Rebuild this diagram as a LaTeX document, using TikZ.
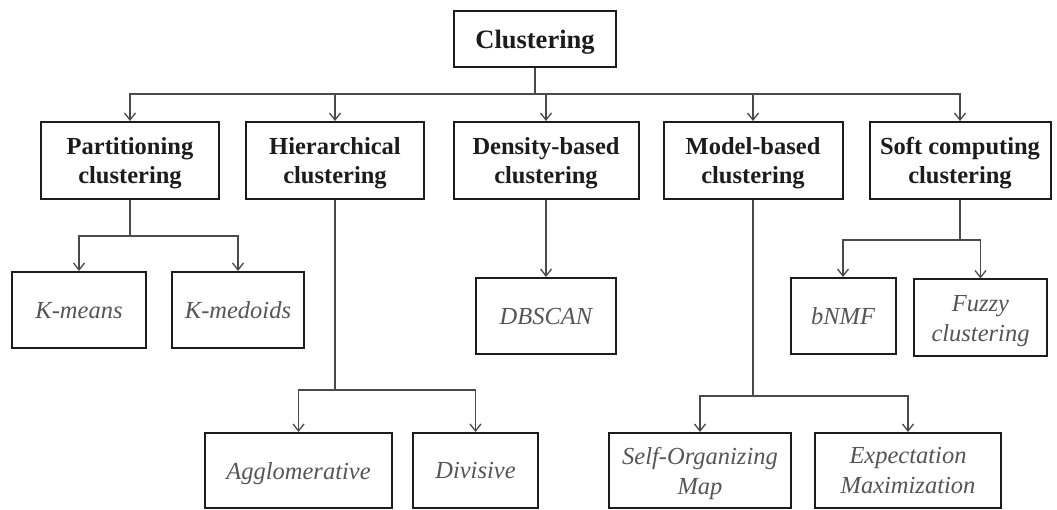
\documentclass[tikz,border=0pt]{standalone}
\usepackage{fontspec}
\setmainfont{Liberation Serif}
\usetikzlibrary{arrows.meta}
\definecolor{inkdark}{HTML}{1C1C1C}
\definecolor{inkgray}{HTML}{555555}
\definecolor{wiregray}{HTML}{4A4A4A}
\begin{document}
\begin{tikzpicture}[x=1pt,y=-1pt,
  catbox/.style={draw=inkdark, line width=2pt, align=center, inner sep=0pt, text depth=0pt,
    text=inkdark, font=\fontsize{24.5}{29.5}\selectfont\bfseries, minimum height=77pt},
  leafbox/.style={draw=inkdark, line width=2pt, align=center, inner sep=0pt, text depth=0pt,
    text=inkgray, font=\fontsize{24.5}{30}\selectfont\itshape, minimum height=76pt},
  wire/.style={draw=wiregray, line width=1.3pt},
  arr/.style={wire, -{Straight Barb[length=7pt,width=11pt,line width=1.3pt]}}
]
\useasboundingbox (0,0) rectangle (1057,510);

% root
\node[catbox, minimum width=162pt, minimum height=56pt,
  font=\fontsize{26.5}{30}\selectfont\bfseries] (root) at (535,39) {Clustering};

% first level
\node[catbox, minimum width=178pt] (part) at (130,160.5) {Partitioning\\clustering};
\node[catbox, minimum width=178pt] (hier) at (335,160.5) {Hierarchical\\clustering};
\node[catbox, minimum width=185pt] (dens) at (546,160.5) {Density-based\\clustering};
\node[catbox, minimum width=179pt] (model) at (753,160.5) {Model-based\\clustering};
\node[catbox, minimum width=181pt] (soft) at (960,160.5) {Soft computing\\clustering};

% leaves
\node[leafbox, minimum width=134pt] (kmeans) at (79,310) {K-means};
\node[leafbox, minimum width=132pt] (kmedoids) at (238,310) {K-medoids};
\node[leafbox, minimum width=140pt] (dbscan) at (546,316) {DBSCAN};
\node[leafbox, minimum width=105pt] (bnmf) at (843,316) {bNMF};
\node[leafbox, minimum width=133pt, minimum height=77pt] (fuzzy) at (980.5,318) {Fuzzy\\clustering};
\node[leafbox, minimum width=187pt, minimum height=75pt] (agglo) at (298.5,470.5) {Agglomerative};
\node[leafbox, minimum width=125pt, minimum height=75pt] (divis) at (475.5,470.5) {Divisive};
\node[leafbox, minimum width=182pt, minimum height=75pt] (som) at (700,470.5) {Self-Organizing\\Map};
\node[leafbox, minimum width=186pt, minimum height=75pt] (em) at (908,470.5) {Expectation\\Maximization};

% junction heights of the buses
\coordinate (busTop) at (0,94);
\coordinate (busPart) at (0,236);
\coordinate (busHier) at (0,390);
\coordinate (busModel) at (0,396);
\coordinate (busSoft) at (0,240);

% root to categories
\foreach \c in {part,hier,dens,model,soft}
  \draw[arr] (root.south) -- (root.south |- busTop) -| (\c.north);

% partitioning
\foreach \c in {kmeans,kmedoids}
  \draw[arr] (part.south) -- (part.south |- busPart) -| (\c.north);

% hierarchical
\foreach \c in {agglo,divis}
  \draw[arr] (hier.south) -- (hier.south |- busHier) -| (\c.north);

% density-based
\draw[arr] (dens.south) -- (dbscan.north);

% model-based
\foreach \c in {som,em}
  \draw[arr] (model.south) -- (model.south |- busModel) -| (\c.north);

% soft computing
\foreach \c in {bnmf,fuzzy}
  \draw[arr] (soft.south) -- (soft.south |- busSoft) -| (\c.north);
\end{tikzpicture}
\end{document}
